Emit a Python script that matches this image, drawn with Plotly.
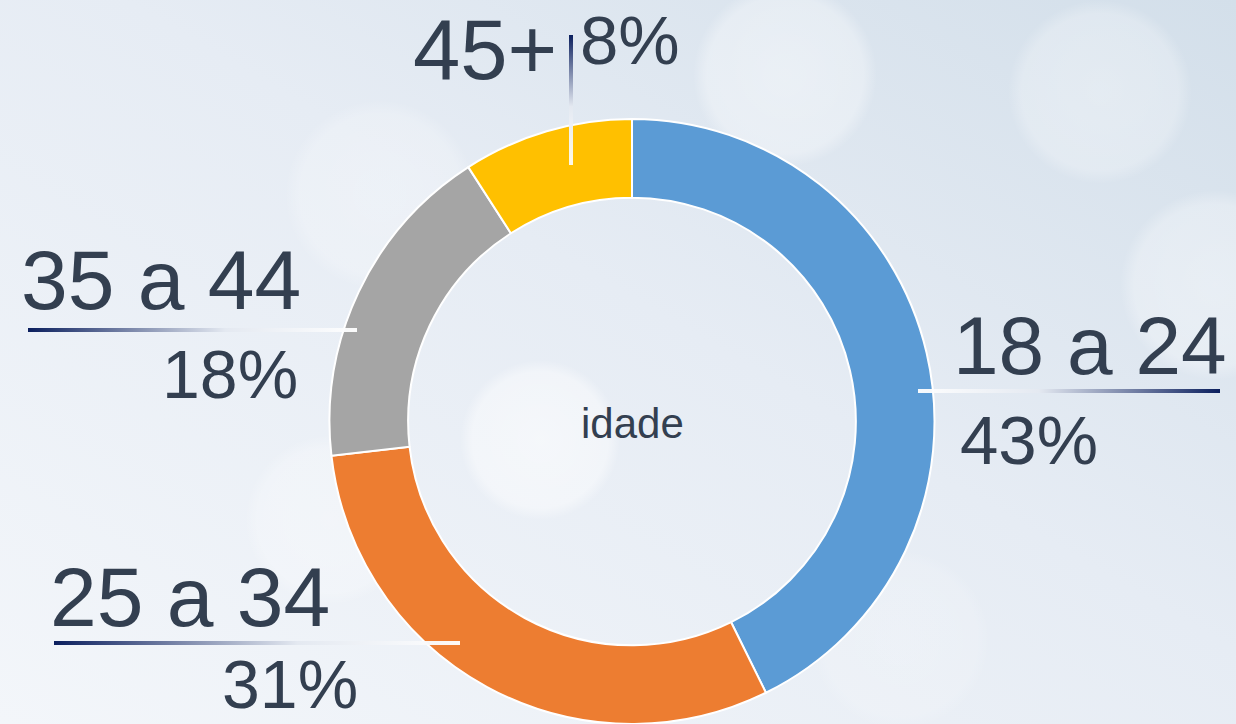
import base64
import plotly.graph_objects as go

W, H = 1236, 724

# ---- data ----
categories = ["18 a 24", "25 a 34", "35 a 44", "45+"]
values = [42.7, 30.5, 17.7, 9.1]          # slice sizes
pct_labels = ["43%", "31%", "18%", "8%"]  # printed labels
colors = ["#5B9BD5", "#ED7D31", "#A5A5A5", "#FFC000"]
center_label = "idade"

TXT = "#333F50"
FONT = "Liberation Sans"


def svg_uri(svg):
    return "data:image/svg+xml;base64," + base64.b64encode(svg.encode("utf-8")).decode("ascii")


# background: soft gradient with bokeh circles
bokeh = [(785, 75, 92, 0.45), (1100, 92, 92, 0.35), (1215, 285, 95, 0.4),
         (380, 195, 95, 0.3), (540, 440, 80, 0.6), (330, 520, 85, 0.35),
         (900, 640, 90, 0.2)]
circles = "".join(
    f'<circle cx="{cx}" cy="{cy}" r="{r}" fill="url(#bk)" opacity="{o}"/>' for cx, cy, r, o in bokeh
)
bg_svg = f'''<svg xmlns="http://www.w3.org/2000/svg" width="{W}" height="{H}" viewBox="0 0 {W} {H}" preserveAspectRatio="none">
<defs>
<linearGradient id="bg" x1="1" y1="0" x2="0" y2="1">
<stop offset="0" stop-color="#D3DFEA"/>
<stop offset="0.45" stop-color="#E6ECF4"/>
<stop offset="1" stop-color="#F3F6FA"/>
</linearGradient>
<radialGradient id="bk">
<stop offset="0" stop-color="#FFFFFF" stop-opacity="0.9"/>
<stop offset="0.85" stop-color="#FFFFFF" stop-opacity="0.7"/>
<stop offset="1" stop-color="#FFFFFF" stop-opacity="0"/>
</radialGradient>
</defs>
<rect x="0" y="0" width="{W}" height="{H}" fill="url(#bg)"/>
{circles}
</svg>'''

# gradient leader lines (decoration above the ring)
lines_svg = f'''<svg xmlns="http://www.w3.org/2000/svg" width="{W}" height="{H}" viewBox="0 0 {W} {H}" preserveAspectRatio="none">
<defs>
<linearGradient id="gR" gradientUnits="userSpaceOnUse" x1="918" y1="0" x2="1220" y2="0">
<stop offset="0" stop-color="#FFFFFF" stop-opacity="0.95"/>
<stop offset="0.4" stop-color="#E4E9F1"/>
<stop offset="1" stop-color="#0B1F5E"/>
</linearGradient>
<linearGradient id="gL1" gradientUnits="userSpaceOnUse" x1="28" y1="0" x2="357" y2="0">
<stop offset="0" stop-color="#0B1F5E"/>
<stop offset="0.6" stop-color="#E4E9F1"/>
<stop offset="1" stop-color="#FFFFFF" stop-opacity="0.95"/>
</linearGradient>
<linearGradient id="gL2" gradientUnits="userSpaceOnUse" x1="54" y1="0" x2="460" y2="0">
<stop offset="0" stop-color="#0B1F5E"/>
<stop offset="0.6" stop-color="#E4E9F1"/>
<stop offset="1" stop-color="#FFFFFF" stop-opacity="0.95"/>
</linearGradient>
<linearGradient id="gV" gradientUnits="userSpaceOnUse" x1="0" y1="35" x2="0" y2="165">
<stop offset="0" stop-color="#0B1F5E"/>
<stop offset="0.55" stop-color="#E4E9F1"/>
<stop offset="1" stop-color="#FFFFFF" stop-opacity="0.9"/>
</linearGradient>
</defs>
<rect x="918" y="389" width="302" height="4" fill="url(#gR)"/>
<rect x="28" y="328" width="329" height="4" fill="url(#gL1)"/>
<rect x="54" y="641" width="406" height="4" fill="url(#gL2)"/>
<rect x="569" y="35" width="4" height="130" fill="url(#gV)"/>
</svg>'''

fig = go.Figure(
    go.Pie(
        labels=categories,
        values=values,
        sort=False,
        direction="clockwise",
        rotation=0,
        hole=0.74,
        marker=dict(colors=colors, line=dict(color="#FFFFFF", width=2)),
        textinfo="none",
        hoverinfo="label",
        showlegend=False,
        domain=dict(x=[329 / W, 935 / W], y=[0, 605 / H]),
    )
)

# annotations: (text, x, y_px, xanchor, yanchor, size)
ann_specs = [
    (categories[0], 951, 345, "left", "middle", 82),
    (pct_labels[0], 958, 440, "left", "middle", 69),
    (categories[1], 48, 597, "left", "middle", 84),
    (pct_labels[1], 360, 724, "right", "bottom", 68),
    (categories[2], 303, 280, "right", "middle", 84),
    (pct_labels[2], 300, 374, "right", "middle", 68),
    (categories[3], 559, 0, "right", "top", 85),
    (pct_labels[3], 578, 0, "left", "top", 69),
    (center_label, 632, 424, "center", "middle", 42),
]
annotations = []
for text, x, yp, xa, ya, size in ann_specs:
    annotations.append(dict(
        text=text, x=x / W, y=1 - yp / H, xref="paper", yref="paper",
        xanchor=xa, yanchor=ya, showarrow=False,
        font=dict(family=FONT, size=size, color=TXT),
    ))

fig.update_layout(
    width=W, height=H,
    margin=dict(l=0, r=0, t=0, b=0),
    paper_bgcolor="#E8EEF5",
    plot_bgcolor="rgba(0,0,0,0)",
    annotations=annotations,
    images=[
        dict(source=svg_uri(bg_svg), xref="paper", yref="paper", x=0, y=1,
             sizex=1, sizey=1, xanchor="left", yanchor="top", sizing="stretch", layer="below"),
        dict(source=svg_uri(lines_svg), xref="paper", yref="paper", x=0, y=1,
             sizex=1, sizey=1, xanchor="left", yanchor="top", sizing="stretch", layer="above"),
    ],
)

fig.write_html("out.html")
